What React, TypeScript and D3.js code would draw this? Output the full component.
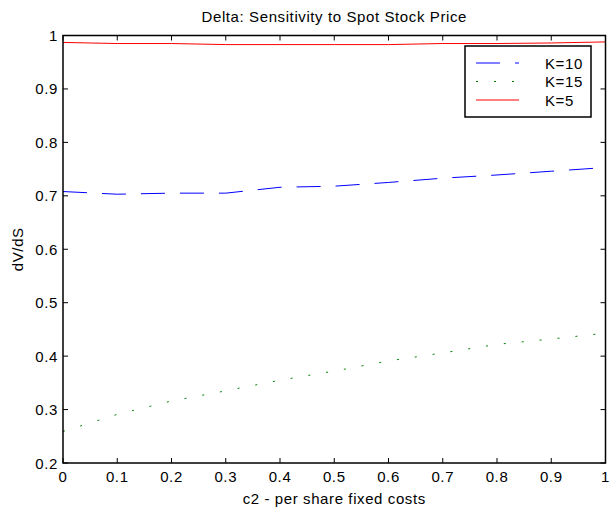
import React from "react";
import * as d3 from "d3";

const xValues = [0, 0.1, 0.2, 0.3, 0.4, 0.5, 0.6, 0.7, 0.8, 0.9, 1.0];
const k10 = [0.708, 0.703, 0.705, 0.705, 0.716, 0.718, 0.725, 0.733, 0.739, 0.746, 0.753];
const k15 = [0.259, 0.291, 0.316, 0.335, 0.355, 0.372, 0.391, 0.406, 0.422, 0.432, 0.443];
const k5 = [0.987, 0.985, 0.985, 0.983, 0.983, 0.983, 0.983, 0.985, 0.985, 0.986, 0.988];
const xTicks = [0, 0.1, 0.2, 0.3, 0.4, 0.5, 0.6, 0.7, 0.8, 0.9, 1];
const yTicks = [0.2, 0.3, 0.4, 0.5, 0.6, 0.7, 0.8, 0.9, 1];
const seriesNames = ["K=10", "K=15", "K=5"];
const seriesColors = ["#0000ff", "#008000", "#ff0000"];
const seriesDash = ["24,15", "2,16", ""];

const W = 616, H = 512;
const L = 63, R = 605.5, T = 35.5, B = 463;
const FONT = "Liberation Sans, Arial, sans-serif";
const FS = 15;
const LS = 0.6;

export default function App() {
  const x = d3.scaleLinear().domain([0, 1]).range([L, R]);
  const y = d3.scaleLinear().domain([0.2, 1]).range([B, T]);
  const line = d3.line<number>().x((_, i) => x(xValues[i])).y((d) => y(d));
  const series = [k10, k15, k5];
  const fmt = (v: number) => (v === 0 || v === 1 ? String(v) : d3.format(".1f")(v));
  const tl = 5;
  return (
    <svg width={W} height={H} style={{ position: "absolute", left: 0, top: 0, background: "#fff" }} fontFamily={FONT} fontSize={FS} letterSpacing={LS}>
      <rect x={0} y={0} width={W} height={H} fill="#fff" />
      <text x={(L + R) / 2} y={22} textAnchor="middle" fill="#000">Delta: Sensitivity to Spot Stock Price</text>
      {series.map((s, i) => (
        <path key={i} d={line(s) || ""} fill="none" stroke={seriesColors[i]} strokeWidth={1} strokeDasharray={seriesDash[i] || undefined} />
      ))}
      <rect x={L} y={T} width={R - L} height={B - T} fill="none" stroke="#000" strokeWidth={1.5} />
      {xTicks.map((t) => (
        <g key={"x" + t}>
          <line x1={x(t)} x2={x(t)} y1={B} y2={B - tl} stroke="#000" />
          <line x1={x(t)} x2={x(t)} y1={T} y2={T + tl} stroke="#000" />
          <text x={x(t)} y={482} textAnchor="middle">{fmt(t)}</text>
        </g>
      ))}
      {yTicks.map((t) => (
        <g key={"y" + t}>
          <line x1={L} x2={L + tl} y1={y(t)} y2={y(t)} stroke="#000" />
          <line x1={R} x2={R - tl} y1={y(t)} y2={y(t)} stroke="#000" />
          <text x={58} y={y(t) + 5.5} textAnchor="end">{fmt(t)}</text>
        </g>
      ))}
      <text x={(L + R) / 2} y={504} textAnchor="middle">c2 - per share fixed costs</text>
      <text transform={`translate(23,${(T + B) / 2}) rotate(-90)`} textAnchor="middle">dV/dS</text>
      <rect x={465} y={46} width={126} height={71} fill="#fff" stroke="#000" strokeWidth={1.5} />
      {seriesNames.map((n, i) => (
        <g key={n}>
          <line x1={476} x2={519} y1={63 + i * 18.5} y2={63 + i * 18.5} stroke={seriesColors[i]} strokeWidth={1} strokeDasharray={seriesDash[i] || undefined} />
          <text x={545} y={63 + i * 18.5 + 5.5}>{n}</text>
        </g>
      ))}
    </svg>
  );
}
